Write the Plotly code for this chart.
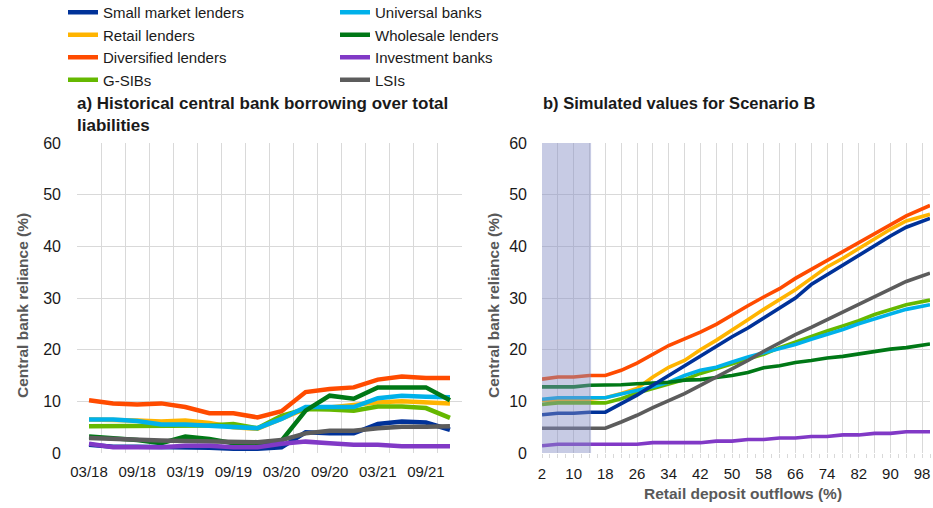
import plotly.graph_objects as go

# ---------------- data ----------------
quarters = ["03/18", "06/18", "09/18", "12/18", "03/19", "06/19", "09/19", "12/19",
            "03/20", "06/20", "09/20", "12/20", "03/21", "06/21", "09/21", "12/21"]

# panel a) historical central bank borrowing over total liabilities (%)
small_a = [1.6, 1.2, 1.2, 1.2, 1.0, 1.0, 0.8, 0.8, 1.1, 4.0, 3.8, 3.8, 5.6, 6.1, 5.9, 4.5]
retail_a = [6.5, 6.5, 6.3, 6.1, 6.3, 5.8, 5.0, 4.7, 6.7, 8.6, 8.8, 9.4, 9.8, 10.0, 9.8, 9.6]
diversified_a = [10.2, 9.6, 9.4, 9.6, 8.9, 7.7, 7.7, 6.9, 8.1, 11.8, 12.4, 12.7, 14.2, 14.8, 14.5, 14.5]
gsibs_a = [5.2, 5.2, 5.2, 5.2, 5.3, 5.3, 5.6, 4.8, 7.2, 8.5, 8.4, 8.2, 9.0, 9.0, 8.7, 6.8]
universal_a = [6.5, 6.5, 6.2, 5.5, 5.5, 5.3, 5.2, 4.8, 6.6, 8.9, 8.9, 8.9, 10.6, 11.1, 10.9, 10.8]
wholesale_a = [3.2, 2.9, 2.5, 1.9, 3.2, 2.7, 1.9, 1.7, 2.4, 8.2, 11.1, 10.5, 12.7, 12.7, 12.7, 10.2]
investment_a = [1.8, 1.1, 1.1, 1.1, 1.4, 1.4, 1.1, 1.1, 1.8, 2.2, 1.9, 1.6, 1.6, 1.3, 1.3, 1.3]
lsis_a = [2.9, 2.7, 2.4, 2.4, 2.3, 2.2, 2.1, 2.1, 2.5, 3.8, 4.3, 4.3, 4.8, 5.1, 5.1, 5.2]

# panel b) simulated values for Scenario B
outflows = [2, 6, 10, 14, 18, 22, 26, 30, 34, 38, 42, 46, 50, 54, 58, 62, 66, 70, 74, 78, 82, 86, 90, 94, 100]
small_b = [7.4, 7.7, 7.7, 7.9, 7.9, 9.5, 11.2, 13.1, 15.0, 17.0, 18.9, 20.6, 22.5, 24.2, 26.2, 28.1,
           30.0, 32.6, 34.5, 36.4, 38.2, 40.1, 42.0, 43.7, 45.4]
retail_b = [10.2, 10.2, 10.2, 10.4, 10.7, 11.5, 12.5, 14.7, 16.6, 17.9, 20.0, 21.8, 23.7, 25.8, 27.8, 29.7,
            31.6, 33.8, 36.0, 37.7, 39.6, 41.5, 43.3, 44.9, 46.2]
diversified_b = [14.3, 14.7, 14.7, 15.0, 15.0, 16.0, 17.4, 19.2, 20.8, 22.1, 23.4, 24.9, 26.8, 28.5, 30.2, 31.8,
                 33.8, 35.5, 37.2, 39.0, 40.6, 42.4, 44.1, 45.9, 47.9]
gsibs_b = [9.4, 9.7, 9.7, 9.7, 9.7, 10.5, 11.6, 12.5, 13.3, 14.2, 15.4, 16.3, 17.3, 18.1, 19.1, 20.4,
           21.5, 22.6, 23.6, 24.6, 25.6, 26.8, 27.8, 28.7, 29.6]
universal_b = [10.4, 10.7, 10.7, 10.7, 10.7, 11.4, 12.1, 12.8, 13.7, 15.0, 16.0, 16.6, 17.6, 18.6, 19.4, 20.2,
               21.0, 22.0, 22.9, 23.9, 25.0, 26.0, 26.9, 27.8, 28.7]
wholesale_b = [12.8, 12.8, 12.8, 13.1, 13.1, 13.2, 13.4, 13.5, 13.7, 14.1, 14.2, 14.6, 15.0, 15.6, 16.5, 16.9,
               17.5, 17.9, 18.4, 18.7, 19.2, 19.6, 20.1, 20.4, 21.1]
investment_b = [1.4, 1.7, 1.7, 1.7, 1.7, 1.7, 1.7, 2.0, 2.0, 2.0, 2.0, 2.3, 2.3, 2.6, 2.6, 2.9,
                2.9, 3.2, 3.2, 3.5, 3.5, 3.8, 3.8, 4.1, 4.1]
lsis_b = [4.8, 4.8, 4.8, 4.8, 4.8, 6.0, 7.3, 8.8, 10.2, 11.5, 13.1, 14.7, 16.3, 17.9, 19.7, 21.3,
          22.9, 24.3, 25.8, 27.3, 28.7, 30.3, 31.7, 33.2, 34.8]

shaded_range = [2, 14.4]
outflow_ticks = list(range(2, 99, 4))

# ---------------- styling ----------------
FONT = "Liberation Sans, Arial, sans-serif"
GRID = "#d9d9d9"
TXT = "#1a1a1a"

W, H = 933, 508


def px(x):
    return x / W


def py(y):
    return 1 - y / H


# name, colour, panel a data, panel b data, legend, rank (draw order is list order)
series = [
    ("Retail lenders", "#FFB400", retail_a, retail_b, "legend", 2),
    ("G-SIBs", "#65B800", gsibs_a, gsibs_b, "legend", 4),
    ("Universal banks", "#00B1EA", universal_a, universal_b, "legend2", 1),
    ("Wholesale lenders", "#007816", wholesale_a, wholesale_b, "legend2", 2),
    ("Small market lenders", "#003299", small_a, small_b, "legend", 1),
    ("LSIs", "#5C5C5C", lsis_a, lsis_b, "legend2", 4),
    ("Investment banks", "#8139C6", investment_a, investment_b, "legend2", 3),
    ("Diversified lenders", "#FF4B00", diversified_a, diversified_b, "legend", 3),
]

xa = list(range(len(quarters)))

fig = go.Figure()
for name, col, da, db, lg, rk in series:
    fig.add_trace(go.Scatter(x=xa, y=da, name=name, mode="lines",
                             line=dict(color=col, width=4.5),
                             xaxis="x", yaxis="y", legend=lg, legendrank=rk,
                             showlegend=True))
for name, col, da, db, lg, rk in series:
    fig.add_trace(go.Scatter(x=outflows, y=db, name=name, mode="lines",
                             line=dict(color=col, width=3.6),
                             xaxis="x2", yaxis="y2", showlegend=False))

ydom = [py(453), py(143)]
legend_font = dict(family=FONT, size=15, color=TXT)

fig.update_layout(
    width=W, height=H,
    margin=dict(l=0, r=0, t=0, b=0, autoexpand=False),
    paper_bgcolor="white", plot_bgcolor="white",
    font=dict(family=FONT, size=15, color=TXT),
    xaxis=dict(domain=[px(77), px(462)], range=[-0.5, len(quarters) - 0.5],
               tickmode="array", tickvals=xa[::2], ticktext=quarters[::2],
               showgrid=False, zeroline=False, showline=False, automargin=False,
               ticks="", ticklabelstandoff=8,
               minor=dict(tickmode="array",
                          tickvals=[i - 0.5 for i in range(len(quarters) + 1)],
                          showgrid=True, gridcolor=GRID, gridwidth=1, ticks=""),
               tickfont=dict(size=15, color=TXT)),
    yaxis=dict(domain=ydom, range=[0, 60], dtick=10, tick0=0, automargin=False,
               showgrid=True, gridcolor=GRID, gridwidth=1, zeroline=False,
               showline=False, ticks="", ticklabelstandoff=15,
               tickfont=dict(size=16, color=TXT)),
    xaxis2=dict(domain=[px(542), px(930)], range=[2, 100], automargin=False,
                tickmode="array", tickvals=outflow_ticks,
                ticktext=[str(v) if (v - 2) % 8 == 0 else "" for v in outflow_ticks],
                showgrid=True, gridcolor=GRID, gridwidth=1, zeroline=False,
                showline=False, ticks="outside", ticklen=4, tickcolor=GRID,
                ticklabelstandoff=3,
                minor=dict(tickmode="array", tickvals=list(range(4, 101, 4)),
                           ticks="outside", ticklen=4, tickcolor=GRID, showgrid=False),
                tickfont=dict(size=15, color=TXT)),
    yaxis2=dict(domain=ydom, range=[0, 60], dtick=10, tick0=0, anchor="x2", automargin=False,
                showgrid=True, gridcolor=GRID, gridwidth=1, zeroline=False,
                showline=False, ticks="", ticklabelstandoff=14,
                tickfont=dict(size=16, color=TXT)),
    legend=dict(x=px(63), y=py(-4), xanchor="left", yanchor="top",
                orientation="v", bgcolor="rgba(0,0,0,0)", font=legend_font,
                tracegroupgap=0, itemwidth=30),
    legend2=dict(x=px(335), y=py(-4), xanchor="left", yanchor="top",
                 orientation="v", bgcolor="rgba(0,0,0,0)", font=legend_font,
                 tracegroupgap=0, itemwidth=30),
    showlegend=True,
)

fig.add_shape(type="rect", xref="x2", yref="y2",
              x0=shaded_range[0], x1=shaded_range[1], y0=0, y1=60,
              fillcolor="rgba(130,140,195,0.45)", line=dict(width=0), layer="above")

axis_title_font = dict(family=FONT, size=15.5, color="#595959")

fig.add_annotation(xref="paper", yref="paper", x=px(75), y=py(92),
                   xanchor="left", yanchor="top", align="left", showarrow=False,
                   text="<b>a) Historical central bank borrowing over total<br>liabilities</b>",
                   font=dict(family=FONT, size=17, color=TXT))
fig.add_annotation(xref="paper", yref="paper", x=px(541), y=py(92),
                   xanchor="left", yanchor="top", align="left", showarrow=False,
                   text="<b>b) Simulated values for Scenario B</b>",
                   font=dict(family=FONT, size=16.5, color=TXT))
fig.add_annotation(xref="paper", yref="paper", x=px(22), y=py(306),
                   xanchor="center", yanchor="middle", textangle=-90, showarrow=False,
                   text="<b>Central bank reliance (%)</b>", font=axis_title_font)
fig.add_annotation(xref="paper", yref="paper", x=px(493), y=py(306),
                   xanchor="center", yanchor="middle", textangle=-90, showarrow=False,
                   text="<b>Central bank reliance (%)</b>", font=axis_title_font)
fig.add_annotation(xref="paper", yref="paper", x=px(743), y=py(493),
                   xanchor="center", yanchor="middle", showarrow=False,
                   text="<b>Retail deposit outflows (%)</b>", font=axis_title_font)

# remove the default 8px page margin so the figure sits at the window's top-left corner
fig.write_html("out.html", config={"displayModeBar": False},
               post_script="document.body.style.margin='0';")
